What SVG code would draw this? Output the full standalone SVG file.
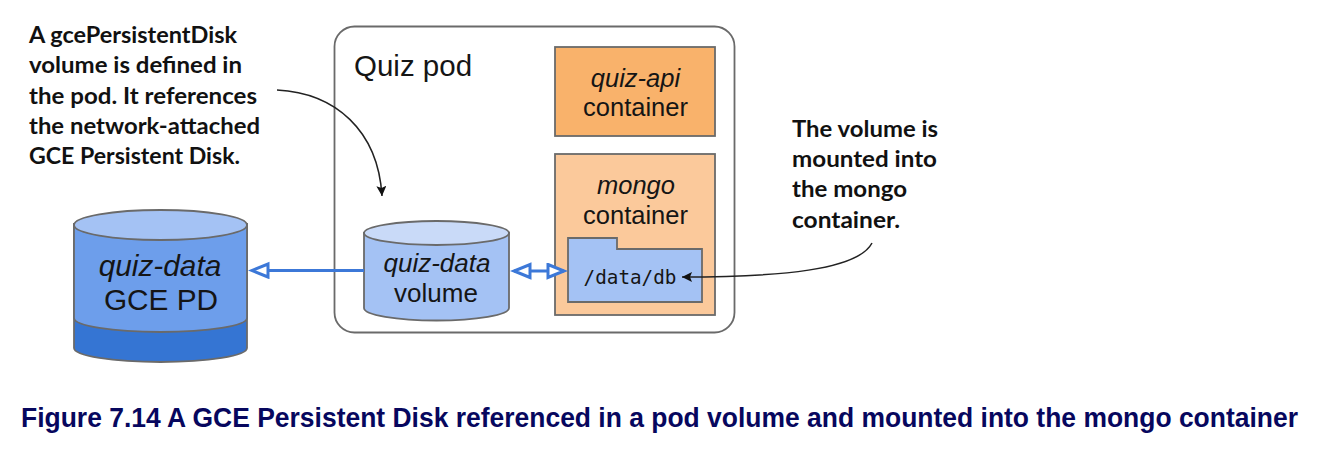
<svg xmlns="http://www.w3.org/2000/svg" width="1322" height="456" viewBox="0 0 1322 456">
<style>
text{font-family:"Liberation Sans",Arial,sans-serif;fill:#151515}
.lbl{font-size:25.500px;text-anchor:middle}
.big{font-size:29.800px;text-anchor:middle}
.it{font-style:italic}
.note{font-family:Lato,"Open Sans",sans-serif;font-weight:700;font-size:23.500px;fill:#111}
.box{stroke:#6a6a6a;stroke-width:1.800}
.call{fill:none;stroke:#222;stroke-width:1.500}
.blue{fill:none;stroke:#3c78d8;stroke-width:3}
</style>
<defs>
<marker id="ah" markerUnits="userSpaceOnUse" markerWidth="12" markerHeight="12" refX="10" refY="5" orient="auto"><path d="M0 0L10 5L0 10L2 5Z" fill="#111"/></marker>
<marker id="open" markerUnits="userSpaceOnUse" markerWidth="22" markerHeight="18" refX="18" refY="8.500" orient="auto-start-reverse"><path d="M2 2L18 8.500L2 15Z" fill="#fff" stroke="#3c78d8" stroke-width="3"/></marker>
</defs>
<g id="pod"><rect class="box" x="334.500" y="26.500" width="400" height="306" rx="20" fill="#fff"/><text x="354" y="76" style="font-size:29.500px">Quiz pod</text></g>
<g id="quiz-api"><rect class="box" x="555" y="47" width="160" height="89" fill="#f9b26b"/><text class="lbl it" x="635.500" y="87">quiz-api</text><text class="lbl" x="635.500" y="116">container</text></g>
<g id="mongo"><rect class="box" x="555" y="154" width="160" height="161" fill="#fbc99b"/><text class="lbl it" x="636" y="194">mongo</text><text class="lbl" x="635.500" y="224">container</text></g>
<g id="mount"><path class="box" d="M568 238H617V249H702V302H568Z" fill="#a4c2f4"/><text x="630" y="284" text-anchor="middle" style="font-family:'DejaVu Sans Mono',monospace;font-size:19.300px">/data/db</text></g>
<g id="volume"><path class="box" d="M364 233V308A72.500 12.500 0 0 0 509 308V233Z" fill="#a4c2f4"/><ellipse class="box" cx="436.500" cy="233" rx="72.500" ry="12" fill="#c9daf8"/><text class="lbl it" x="437" y="272" style="font-size:26px">quiz-data</text><text class="lbl" x="436" y="302" style="font-size:26px">volume</text></g>
<g id="disk"><path class="box" d="M74 224V348A86.500 14 0 0 0 247 348V224Z" fill="#3575d3"/><path class="box" d="M74 318A86.500 14 0 0 0 247 318V224H74Z" fill="#6d9eeb"/><ellipse class="box" cx="160.500" cy="225" rx="86.500" ry="15" fill="#a4c2f4"/><text x="160" y="276" class="big it">quiz-data</text><text x="161" y="310" class="big">GCE PD</text></g>
<g id="connectors">
<path class="blue" d="M364 270.500H252" marker-end="url(#open)"/>
<path class="blue" d="M514 271H564" marker-start="url(#open)" marker-end="url(#open)"/>
<path class="call" d="M277 90C335 93 378 130 382 196" marker-end="url(#ah)"/>
<path class="call" d="M872 243C858 270 780 277 682 277" marker-end="url(#ah)"/>
</g>
<g id="notes">
<text class="note" x="29" y="43" textLength="208" lengthAdjust="spacingAndGlyphs">A gcePersistentDisk</text>
<text class="note" x="29" y="73" textLength="213" lengthAdjust="spacingAndGlyphs">volume is defined in</text>
<text class="note" x="29" y="104" textLength="228" lengthAdjust="spacingAndGlyphs">the pod. It references</text>
<text class="note" x="29" y="134" textLength="231" lengthAdjust="spacingAndGlyphs">the network-attached</text>
<text class="note" x="29" y="164" textLength="211" lengthAdjust="spacingAndGlyphs">GCE Persistent Disk.</text>
<text class="note" x="792" y="137" textLength="146" lengthAdjust="spacingAndGlyphs">The volume is</text>
<text class="note" x="792" y="167" textLength="145" lengthAdjust="spacingAndGlyphs">mounted into</text>
<text class="note" x="792" y="197" textLength="115" lengthAdjust="spacingAndGlyphs">the mongo</text>
<text class="note" x="792" y="228" textLength="108" lengthAdjust="spacingAndGlyphs">container.</text>
</g>
<text x="21" y="427" style="font-family:'Liberation Sans',Arial,sans-serif;font-weight:700;font-size:27px;fill:#07075e" textLength="1277" lengthAdjust="spacingAndGlyphs">Figure 7.14 A GCE Persistent Disk referenced in a pod volume and mounted into the mongo container</text>
</svg>
